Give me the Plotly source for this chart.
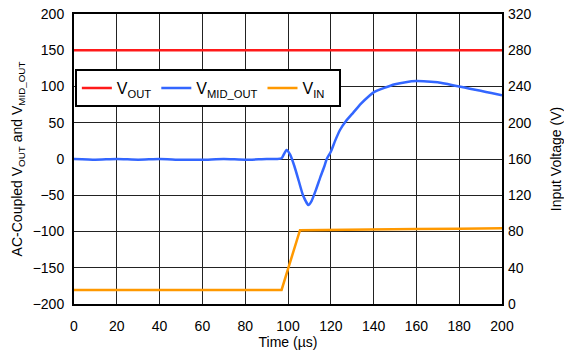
import plotly.graph_objects as go

# Time axis samples (µs)
t_out = [0, 50, 100, 150, 200]
v_out = [150, 150, 150, 150, 150]

t_mid = [0, 10, 20, 30, 40, 50, 60, 70, 80, 90, 95, 97, 99.3, 101, 103, 105, 107, 109.5,
         111, 113, 115, 117, 118.1, 120, 122, 124.3, 127, 130.5, 134, 138.3, 140, 145,
         150, 155, 160, 165, 170, 175, 180, 185, 190, 195, 200]
v_mid = [0, -1, 0, -1, 0, -1, -1, 0, -1, 0, 0, 1, 12.5, 6, -10, -30, -50, -63.5,
         -58, -43, -26, -10, 0, 10, 25, 40, 52, 64, 76, 88, 92, 98,
         103, 106, 107.5, 107, 106, 103, 100, 97, 94, 91, 88]

t_in = [0, 20, 40, 60, 80, 97, 105.6, 120, 140, 160, 180, 200]
v_in = [15.5, 15.5, 15.5, 15.5, 15.5, 15.5, 81.5, 82, 82.5, 82.8, 83, 83.5]

left_ticks = [-200, -150, -100, -50, 0, 50, 100, 150, 200]
right_ticks = [0, 40, 80, 120, 160, 200, 240, 280, 320]
x_ticks = list(range(0, 201, 20))

fig = go.Figure()
fig.add_trace(go.Scatter(x=t_out, y=v_out, mode="lines", name="V<sub>OUT</sub>",
                         line=dict(color="#ff1a1a", width=2.5)))
fig.add_trace(go.Scatter(x=t_mid, y=v_mid, mode="lines", name="V<sub>MID_OUT</sub>",
                         line=dict(color="#3366ff", width=2.5, shape="spline", smoothing=0.5)))
fig.add_trace(go.Scatter(x=t_in, y=v_in, mode="lines", name="V<sub>IN</sub>&nbsp;&nbsp;", yaxis="y2",
                         line=dict(color="#ff9900", width=2.5)))

font_family = "Liberation Sans, Arial, sans-serif"
fig.update_layout(
    width=564, height=350,
    margin=dict(l=74, r=62, t=14, b=46),
    paper_bgcolor="white", plot_bgcolor="white",
    font=dict(family=font_family, size=14, color="black"),
    showlegend=True,
    legend=dict(orientation="h", x=0.002, y=0.81, xanchor="left", yanchor="top",
                bgcolor="white", bordercolor="black", borderwidth=2,
                font=dict(size=16, family=font_family), itemwidth=30,
                tracegroupgap=0),
    xaxis=dict(range=[0, 200], tickvals=x_ticks, showgrid=True, gridcolor="#222",
               gridwidth=1, showline=True, linecolor="black", linewidth=2, mirror=True,
               zeroline=False, ticks="", ticklabelstandoff=8, automargin=False,
               title=dict(text="Time (µs)", font=dict(size=14), standoff=0),
               tickfont=dict(size=14)),
    yaxis=dict(range=[-200, 200], tickvals=left_ticks, showgrid=True, gridcolor="#222",
               gridwidth=1, showline=True, linecolor="black", linewidth=2, mirror=True,
               zeroline=False, ticks="", ticklabelstandoff=5, automargin=False,
               title=dict(text="AC-Coupled V<sub>OUT</sub> and V<sub>MID_OUT</sub>",
                          font=dict(size=14), standoff=7),
               tickfont=dict(size=14)),
    yaxis2=dict(range=[0, 320], tickvals=right_ticks, overlaying="y", side="right",
                showgrid=False, zeroline=False, showline=False, ticks="", ticklabelstandoff=5,
                automargin=False,
                title=dict(text="Input Voltage (V)", font=dict(size=14), standoff=22),
                tickfont=dict(size=14)),
)

fig.write_html("out.html")
